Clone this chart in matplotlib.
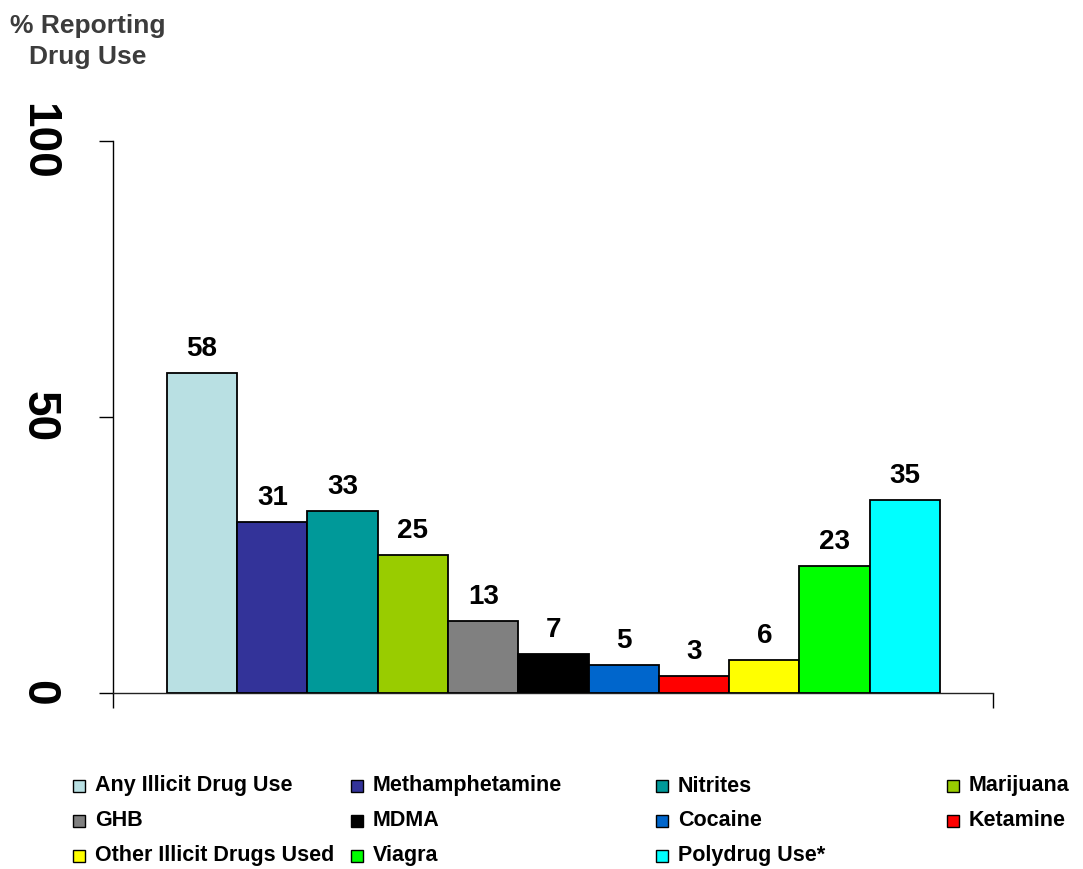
import matplotlib
matplotlib.use("Agg")
import matplotlib.pyplot as plt
from matplotlib.patches import Rectangle

plt.rcParams['font.family'] = ['Liberation Sans', 'DejaVu Sans']
plt.rcParams['font.weight'] = 'bold'

# data
drugs = ['Any Illicit Drug Use', 'Methamphetamine', 'Nitrites', 'Marijuana',
         'GHB', 'MDMA', 'Cocaine', 'Ketamine',
         'Other Illicit Drugs Used', 'Viagra', 'Polydrug Use*']
percent = [58, 31, 33, 25, 13, 7, 5, 3, 6, 23, 35]
colors = ['#B9E0E3', '#333399', '#009999', '#99CC00', '#808080', '#000000',
          '#0066CC', '#FF0000', '#FFFF00', '#00FF00', '#00FFFF']
y_ticks = [0, 50, 100]

W, H = 1083, 869
fig = plt.figure(figsize=(W / 100, H / 100), dpi=100)
ax = fig.add_axes([113 / W, 1 - 693 / H, 880 / W, 552 / H])

xpos = list(range(len(percent)))
ax.bar(xpos, percent, width=1.0, color=colors, edgecolor='black', linewidth=1.3, zorder=3)

for x, v in zip(xpos, percent):
    ax.annotate(str(v), (x, v), xytext=(0, 12.2), textcoords='offset points',
                ha='center', va='baseline', fontsize=20, fontweight='bold')

ax.set_xlim(-1.267, 11.253)
ax.set_ylim(0, 100)
ax.spines['top'].set_visible(False)
ax.spines['right'].set_visible(False)
ax.spines['left'].set_linewidth(1.0)
ax.spines['bottom'].set_linewidth(1.0)
ax.spines['bottom'].set_color('#222222')

ax.set_xticks(ax.get_xlim())
ax.set_xticklabels([])
ax.tick_params(axis='x', direction='out', length=11, width=1.0)

ax.set_yticks(y_ticks)
ax.set_yticklabels([str(t) for t in y_ticks], rotation=-90, fontsize=33,
                   fontweight='bold', va='center')
ax.tick_params(axis='y', direction='out', length=10, width=1.0, pad=28)

fig.text(88 / W, 1 - 14 / H, '% Reporting\nDrug Use', ha='center', va='top',
         multialignment='center', fontsize=19, fontweight='bold',
         color='#3c3c3c', linespacing=1.35)

# legend laid out in 4 columns like the original
col_x = [73, 351, 656, 947]
row_y = [786, 821, 856]
sq = 12
for i, (name, c) in enumerate(zip(drugs, colors)):
    r, k = divmod(i, 4)
    x0 = col_x[k]
    y0 = row_y[r]
    fig.patches.append(Rectangle((x0 / W, 1 - (y0 + sq / 2) / H), sq / W, sq / H,
                                 transform=fig.transFigure, facecolor=c,
                                 edgecolor='black', linewidth=1.0))
    fig.text((x0 + 22) / W, 1 - y0 / H, name, ha='left', va='center',
             fontsize=15.5, fontweight='bold')

fig.savefig('out.png', dpi=100)
